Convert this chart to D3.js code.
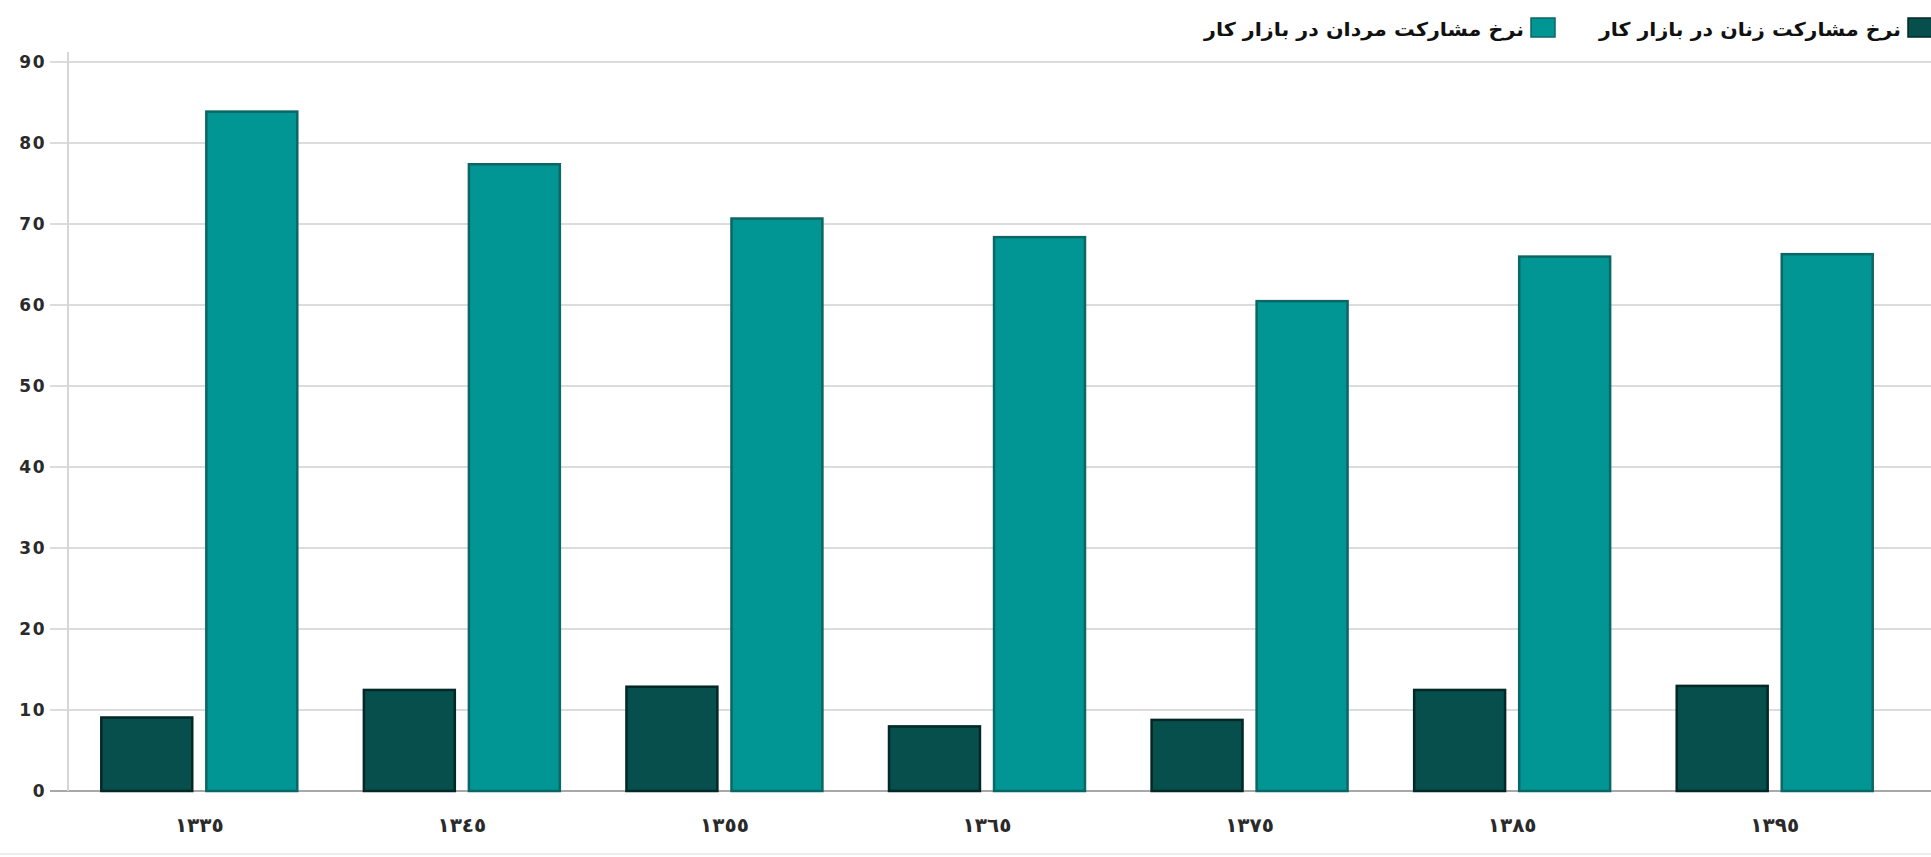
<!DOCTYPE html>
<html>
<head>
<meta charset="utf-8">
<script src="https://cdn.jsdelivr.net/npm/d3@7"></script>
<style>
  html, body { margin: 0; padding: 0; background: #fff; }
  svg { display: block; }
</style>
</head>
<body>
<svg id="chart" width="1931" height="857"></svg>
<script>
const categories = ["١٣٣٥", "١٣٤٥", "١٣٥٥", "١٣٦٥", "١٣٧٥", "١٣٨٥", "١٣٩٥"];
const seriesNames = ["نرخ مشارکت زنان در بازار کار", "نرخ مشارکت مردان در بازار کار"];
const womenValues = [9.2, 12.6, 13.0, 8.1, 8.9, 12.6, 13.1];
const menValues = [84.0, 77.5, 70.8, 68.5, 60.6, 66.1, 66.4];
const yTicks = [0, 10, 20, 30, 40, 50, 60, 70, 80, 90];

(function () {
const W = 1931, H = 857;
const svg = d3.select("#chart");
const mLeft = 68, mRight = 1906, mTop = 62, mBottom = 791;

const x0 = d3.scaleBand().domain(categories).range([mLeft, mRight]).paddingInner(0.246).paddingOuter(0.123);
const x1 = d3.scaleBand().domain([0, 1]).range([0, x0.bandwidth()]).paddingInner(0.115);
const y = d3.scaleLinear().domain([0, 90]).range([mBottom, mTop]);

const fills = ["#064f4d", "#019694"];
const strokes = ["#032826", "#0b6765"];

// grid lines
const grid = svg.append("g");
grid.selectAll("line").data(yTicks).join("line")
  .attr("x1", 50).attr("x2", W)
  .attr("y1", d => y(d)).attr("y2", d => y(d))
  .attr("stroke", d => d === 0 ? "#a8a8a8" : "#dcdcdc")
  .attr("stroke-width", 2);

// y axis line
svg.append("line").attr("x1", mLeft).attr("x2", mLeft).attr("y1", mTop - 10).attr("y2", mBottom)
  .attr("stroke", "#d6d6d6").attr("stroke-width", 2);

// y axis labels using d3 axis
const yAxis = d3.axisLeft(y).tickValues(yTicks).tickSize(0).tickPadding(0);
const yg = svg.append("g").attr("transform", `translate(${46},0)`).call(yAxis);
yg.select(".domain").remove();
yg.selectAll("text")
  .attr("font-family", "DejaVu Sans, sans-serif")
  .attr("font-weight", "bold")
  .attr("font-size", 17)
  .attr("letter-spacing", 1.5)
  .attr("fill", "#2a2a2a");

// bars
const data = categories.map((c, i) => ({ c, vals: [womenValues[i], menValues[i]] }));
const groups = svg.append("g").selectAll("g").data(data).join("g")
  .attr("transform", d => `translate(${x0(d.c)},0)`);
groups.selectAll("rect").data(d => d.vals.map((v, k) => ({ v, k }))).join("rect")
  .attr("x", d => x1(d.k) + 1)
  .attr("width", x1.bandwidth() - 2)
  .attr("y", d => y(d.v) + 1)
  .attr("height", d => y(0) - y(d.v) - 1)
  .attr("fill", d => fills[d.k])
  .attr("stroke", d => strokes[d.k])
  .attr("stroke-width", 2.5);

// x axis labels
const xAxis = d3.axisBottom(x0).tickSize(0).tickPadding(0);
const xg = svg.append("g").attr("transform", `translate(0,${825})`).call(xAxis);
xg.select(".domain").remove();
xg.selectAll("text")
  .attr("dy", "0.35em")
  .attr("font-family", "DejaVu Sans, sans-serif")
  .attr("font-weight", "bold")
  .attr("font-size", 20)
  .attr("fill", "#2a2a2a");

// bottom faint line
svg.append("line").attr("x1", 0).attr("x2", W).attr("y1", 854).attr("y2", 854)
  .attr("stroke", "#ececec").attr("stroke-width", 2);

// legend
const legend = [
  { name: seriesNames[0], sx: 1908, textRight: 1901, len: 302, k: 0 },
  { name: seriesNames[1], sx: 1531, textRight: 1524, len: 320, k: 1 }
];
const lg = svg.append("g");
lg.selectAll("rect").data(legend).join("rect")
  .attr("x", d => d.sx).attr("y", 18).attr("width", 24).attr("height", 19)
  .attr("fill", d => fills[d.k]).attr("stroke", d => strokes[d.k]).attr("stroke-width", 1.5);
lg.selectAll("text").data(legend).join("text")
  .attr("x", d => d.textRight - d.len).attr("y", 36)
  .attr("text-anchor", "start")
  .attr("font-family", "DejaVu Sans, sans-serif")
  .attr("font-weight", "bold")
  .attr("font-size", 19)
  .attr("fill", "#111")
  .text(d => d.name);
lg.selectAll("text").each(function(d) {
  const w = this.getComputedTextLength();
  if (w > 0) d3.select(this).attr("textLength", d.len).attr("lengthAdjust", "spacingAndGlyphs");
});
})();
</script>
</body>
</html>
